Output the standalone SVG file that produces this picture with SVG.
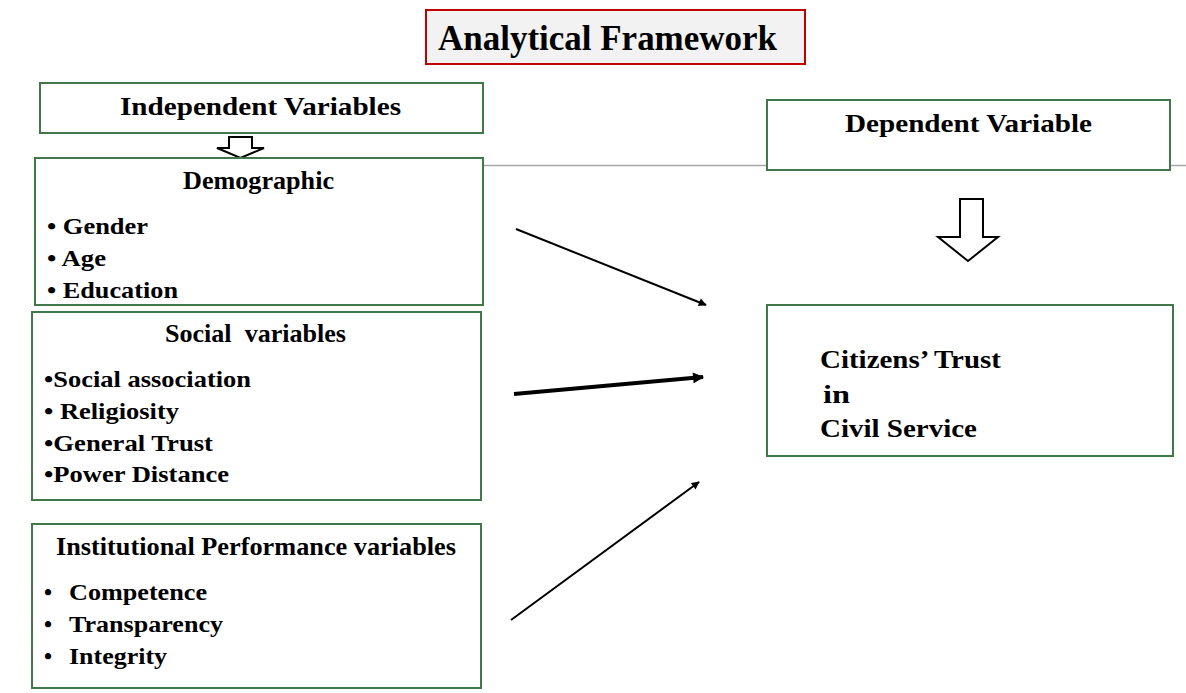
<svg xmlns="http://www.w3.org/2000/svg" width="1186" height="693" viewBox="0 0 1186 693">
<defs>
<style>
.t{font-family:"Liberation Serif","Times New Roman",serif;font-weight:bold;fill:#000}
.h{font-size:25px}
.i{font-size:23px}
.box{fill:#fff;stroke:#41774a;stroke-width:2}
.conn{stroke:#000;fill:none}
.hollow{fill:#fff;stroke:#000;stroke-width:2;stroke-linejoin:miter}
</style>
<marker id="ah" viewBox="0 0 10 10" refX="9" refY="5" markerWidth="11" markerHeight="8" markerUnits="userSpaceOnUse" orient="auto">
<path d="M0,0 L10,5 L0,10 z" fill="#000"/>
</marker>
<marker id="ahb" viewBox="0 0 10 10" refX="9" refY="5" markerWidth="13" markerHeight="11" markerUnits="userSpaceOnUse" orient="auto">
<path d="M0,0 L10,5 L0,10 z" fill="#000"/>
</marker>
</defs>
<rect width="1186" height="693" fill="#fff"/>
<line x1="484" y1="165.5" x2="1186" y2="165.5" stroke="#a6a6a6" stroke-width="1.5"/>
<g id="title">
<rect x="426" y="10" width="379" height="54" fill="#f2f2f2" stroke="#c00000" stroke-width="2"/>
<text class="t" x="438" y="50" font-size="35" textLength="339" lengthAdjust="spacingAndGlyphs">Analytical Framework</text>
</g>
<g id="independent">
<rect class="box" x="40" y="83" width="443" height="50"/>
<text class="t" x="120" y="115" font-size="26" textLength="281" lengthAdjust="spacingAndGlyphs">Independent Variables</text>
</g>
<g id="arrow-small">
<path class="hollow" d="M229,137 L252,137 L252,148 L264,148 L240.5,158 L217,148 L229,148 Z"/>
</g>
<g id="demographic">
<rect class="box" x="35" y="158" width="448" height="147"/>
<text class="t h" x="183" y="189" textLength="151" lengthAdjust="spacingAndGlyphs">Demographic</text>
<text class="t i" x="47" y="234" textLength="101" lengthAdjust="spacingAndGlyphs">• Gender</text>
<text class="t i" x="47" y="266" textLength="59" lengthAdjust="spacingAndGlyphs">• Age</text>
<text class="t i" x="47" y="298" textLength="131" lengthAdjust="spacingAndGlyphs">• Education</text>
</g>
<g id="social">
<rect class="box" x="32" y="312" width="449" height="188"/>
<text class="t h" x="165" y="342" textLength="181" lengthAdjust="spacingAndGlyphs" xml:space="preserve">Social  variables</text>
<text class="t i" x="44" y="387" textLength="207" lengthAdjust="spacingAndGlyphs">•Social association</text>
<text class="t i" x="44" y="419" textLength="135" lengthAdjust="spacingAndGlyphs" xml:space="preserve">• Religiosity</text>
<text class="t i" x="44" y="451" textLength="169" lengthAdjust="spacingAndGlyphs">•General Trust</text>
<text class="t i" x="44" y="482" textLength="185" lengthAdjust="spacingAndGlyphs">•Power Distance</text>
</g>
<g id="institutional">
<rect class="box" x="32" y="524" width="449" height="164"/>
<text class="t h" x="56" y="555" textLength="400" lengthAdjust="spacingAndGlyphs">Institutional Performance variables</text>
<text class="t i" x="44" y="600">•</text>
<text class="t i" x="69" y="600" textLength="138" lengthAdjust="spacingAndGlyphs">Competence</text>
<text class="t i" x="44" y="632">•</text>
<text class="t i" x="69" y="632" textLength="154" lengthAdjust="spacingAndGlyphs">Transparency</text>
<text class="t i" x="44" y="664">•</text>
<text class="t i" x="69" y="664" textLength="98" lengthAdjust="spacingAndGlyphs">Integrity</text>
</g>
<g id="dependent">
<rect class="box" x="767" y="100" width="403" height="70"/>
<text class="t" x="845" y="132" font-size="26" textLength="247" lengthAdjust="spacingAndGlyphs">Dependent Variable</text>
</g>
<g id="arrow-big">
<path class="hollow" d="M960,199 L983,199 L983,237 L998,237 L968,261 L938,237 L960,237 Z"/>
</g>
<g id="outcome">
<rect class="box" x="767" y="305" width="406" height="151"/>
<text class="t" x="820" y="368" font-size="25" textLength="181" lengthAdjust="spacingAndGlyphs">Citizens’ Trust</text>
<text class="t" x="823" y="403" font-size="25" textLength="27" lengthAdjust="spacingAndGlyphs">in</text>
<text class="t" x="820" y="437" font-size="25" textLength="157" lengthAdjust="spacingAndGlyphs">Civil Service</text>
</g>
<g id="connectors">
<line class="conn" x1="516" y1="229" x2="706" y2="305" stroke-width="2" marker-end="url(#ah)"/>
<line class="conn" x1="514" y1="394" x2="703" y2="377" stroke-width="4" marker-end="url(#ahb)"/>
<line class="conn" x1="511" y1="620" x2="699" y2="482" stroke-width="2" marker-end="url(#ah)"/>
</g>
</svg>
